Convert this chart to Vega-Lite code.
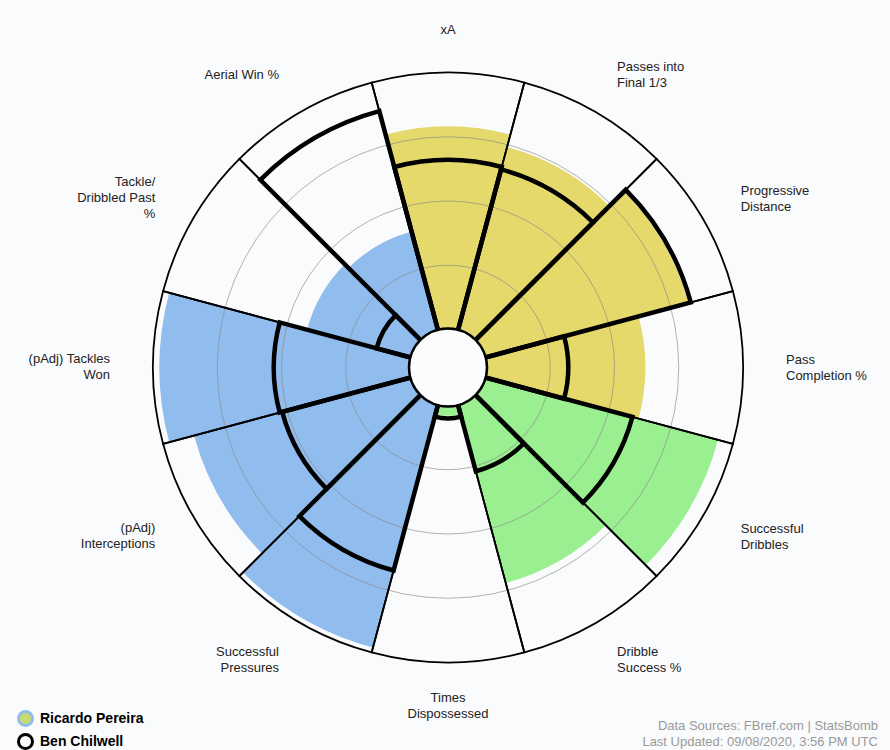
{
  "$schema": "https://vega.github.io/schema/vega-lite/v6.json",
  "width": 884,
  "height": 735,
  "padding": {"left": 6, "top": 0, "right": 0, "bottom": 15},
  "autosize": {"type": "none"},
  "background": "#fafbfc",
  "config": {"view": {"stroke": null}, "font": "Liberation Sans"},
  "title": {
    "text": ["Data Sources: FBref.com | StatsBomb", "Last Updated: 09/08/2020, 3:56 PM UTC"],
    "orient": "bottom", "anchor": "end", "frame": "group", "align": "right",
    "offset": 0, "dy": -35, "baseline": "top", "dx": -12,
    "fontSize": 13, "fontWeight": "normal", "color": "#999999", "lineHeight": 16, "font": "Liberation Sans"
  },
  "datasets": {
    "metrics": [
      {"i": 1, "metric": "xA", "group": "attack", "pereira": 79, "chilwell": 66},
      {"i": 2, "metric": "Passes into\nFinal 1/3", "group": "attack", "pereira": 74, "chilwell": 65},
      {"i": 3, "metric": "Progressive\nDistance", "group": "attack", "pereira": 82, "chilwell": 83},
      {"i": 4, "metric": "Pass\nCompletion %", "group": "attack", "pereira": 62, "chilwell": 32},
      {"i": 5, "metric": "Successful\nDribbles", "group": "possession", "pereira": 94, "chilwell": 59.5},
      {"i": 6, "metric": "Dribble\nSuccess %", "group": "possession", "pereira": 72, "chilwell": 27},
      {"i": 7, "metric": "Times\nDispossessed", "group": "possession", "pereira": 4, "chilwell": 5},
      {"i": 8, "metric": "Successful\nPressures", "group": "defense", "pereira": 98, "chilwell": 67},
      {"i": 9, "metric": "(pAdj)\nInterceptions", "group": "defense", "pereira": 87.5, "chilwell": 52},
      {"i": 10, "metric": "(pAdj) Tackles\nWon", "group": "defense", "pereira": 97.5, "chilwell": 53},
      {"i": 11, "metric": "Tackle/\nDribbled Past\n%", "group": "defense", "pereira": 42, "chilwell": 14},
      {"i": 12, "metric": "Aerial Win %", "group": "defense", "pereira": 40, "chilwell": 88.5}
    ],
    "grid": [{"level": 25}, {"level": 50}, {"level": 75}],
    "players": [{"player": "Ricardo Pereira"}, {"player": "Ben Chilwell"}]
  },
  "layer": [
    {
      "data": {"name": "metrics"},
      "transform": [
        {"aggregate": [{"op": "count", "as": "n"}], "groupby": ["i", "metric", "group", "pereira", "chilwell"]},
        {"stack": "n", "groupby": [], "sort": [{"field": "i", "order": "ascending"}], "as": ["t0", "t1"]}
      ],
      "mark": {"type": "arc", "strokeWidth": 0},
      "encoding": {
        "theta": {"field": "t0", "type": "quantitative", "stack": null, "scale": {"domain": [0, 12], "range": [-0.261799, 6.021386]}},
        "theta2": {"field": "t1"},
        "radius": {"field": "pereira", "type": "quantitative", "stack": null, "scale": {"type": "linear", "domain": [0, 100], "range": [38, 295], "zero": false}},
        "color": {"field": "group", "type": "nominal", "scale": {"domain": ["attack", "possession", "defense"], "range": ["#e5d96c", "#9aef91", "#90bcee"]}, "legend": null}
      }
    },
    {
      "data": {"name": "grid"},
      "mark": {"type": "arc", "filled": false, "stroke": "#888888", "strokeOpacity": 0.65, "strokeWidth": 1, "theta": 0, "theta2": 6.2832},
      "encoding": {
        "radius": {"field": "level", "type": "quantitative", "stack": null}
      }
    },
    {
      "data": {"name": "metrics"},
      "mark": {"type": "arc", "filled": false, "stroke": "#000000", "strokeWidth": 1.8},
      "encoding": {
        "theta": {"aggregate": "count", "type": "quantitative", "stack": true},
        "order": {"field": "i", "type": "quantitative"},
        "detail": {"field": "metric", "type": "nominal"},
        "radius": {"datum": 100, "type": "quantitative"}
      }
    },
    {
      "data": {"name": "metrics"},
      "transform": [
        {"aggregate": [{"op": "count", "as": "n"}], "groupby": ["i", "metric", "group", "pereira", "chilwell"]},
        {"stack": "n", "groupby": [], "sort": [{"field": "i", "order": "ascending"}], "as": ["t0", "t1"]}
      ],
      "mark": {"type": "arc", "filled": false, "stroke": "#000000", "strokeWidth": 4.5},
      "encoding": {
        "theta": {"field": "t0", "type": "quantitative", "stack": null},
        "theta2": {"field": "t1"},
        "radius": {"field": "chilwell", "type": "quantitative", "stack": null}
      }
    },
    {
      "data": {"name": "players"},
      "mark": {"type": "point", "filled": true, "size": 10},
      "encoding": {
        "fill": {"field": "player", "type": "nominal", "scale": {"domain": ["Ricardo Pereira", "Ben Chilwell"], "range": ["#c8dc6e", "#fafbfc"]},
          "legend": {"title": null, "orient": "none", "legendX": 11, "legendY": 710, "direction": "vertical", "symbolType": "circle", "symbolSize": 196, "symbolStrokeWidth": 3, "symbolOpacity": 1, "labelFont": "Liberation Sans", "labelFontSize": 14, "labelFontWeight": "bold", "labelColor": "#000000", "labelOffset": 6, "rowPadding": -4, "padding": 0,
            "encode": {"symbols": {"update": {"stroke": {"scale": "stroke", "field": "value"}, "strokeWidth": {"value": 3}, "opacity": {"value": 1}, "fillOpacity": {"value": 1}}}}}},
        "stroke": {"field": "player", "type": "nominal", "scale": {"domain": ["Ricardo Pereira", "Ben Chilwell"], "range": ["#90bcee", "#000000"]}, "legend": null}
      }
    },
    {
      "data": {"values": [{}]},
      "mark": {"type": "arc", "radius": 38.5, "theta": 0, "theta2": 6.2832, "fill": "#fbfcfd", "stroke": "#000000", "strokeWidth": 1.5},
      "encoding": {}
    },
    {
      "data": {"name": "metrics"},
      "mark": {"type": "text", "radius": 338, "fontSize": 13, "lineBreak": "\n", "lineHeight": 16, "baseline": "middle", "align": "center", "color": "#222222", "dy": {"expr": "-8 * (length(split(datum.metric, '\\n')) - 1)"}},
      "encoding": {
        "theta": {"aggregate": "count", "type": "quantitative", "stack": true},
        "order": {"field": "i", "type": "quantitative"},
        "detail": {"field": "metric", "type": "nominal"},
        "text": {"condition": {"test": "datum.i == 1 || datum.i == 7", "field": "metric", "type": "nominal"}, "value": ""}
      }
    },
    {
      "data": {"name": "metrics"},
      "mark": {"type": "text", "radius": 338, "fontSize": 13, "lineBreak": "\n", "lineHeight": 16, "baseline": "middle", "align": "left", "color": "#222222", "dy": {"expr": "-8 * (length(split(datum.metric, '\\n')) - 1)"}},
      "encoding": {
        "theta": {"aggregate": "count", "type": "quantitative", "stack": true},
        "order": {"field": "i", "type": "quantitative"},
        "detail": {"field": "metric", "type": "nominal"},
        "text": {"condition": {"test": "datum.i > 1 && datum.i < 7", "field": "metric", "type": "nominal"}, "value": ""}
      }
    },
    {
      "data": {"name": "metrics"},
      "mark": {"type": "text", "radius": 338, "fontSize": 13, "lineBreak": "\n", "lineHeight": 16, "baseline": "middle", "align": "right", "color": "#222222", "dy": {"expr": "-8 * (length(split(datum.metric, '\\n')) - 1)"}},
      "encoding": {
        "theta": {"aggregate": "count", "type": "quantitative", "stack": true},
        "order": {"field": "i", "type": "quantitative"},
        "detail": {"field": "metric", "type": "nominal"},
        "text": {"condition": {"test": "datum.i > 7", "field": "metric", "type": "nominal"}, "value": ""}
      }
    }
  ]
}
